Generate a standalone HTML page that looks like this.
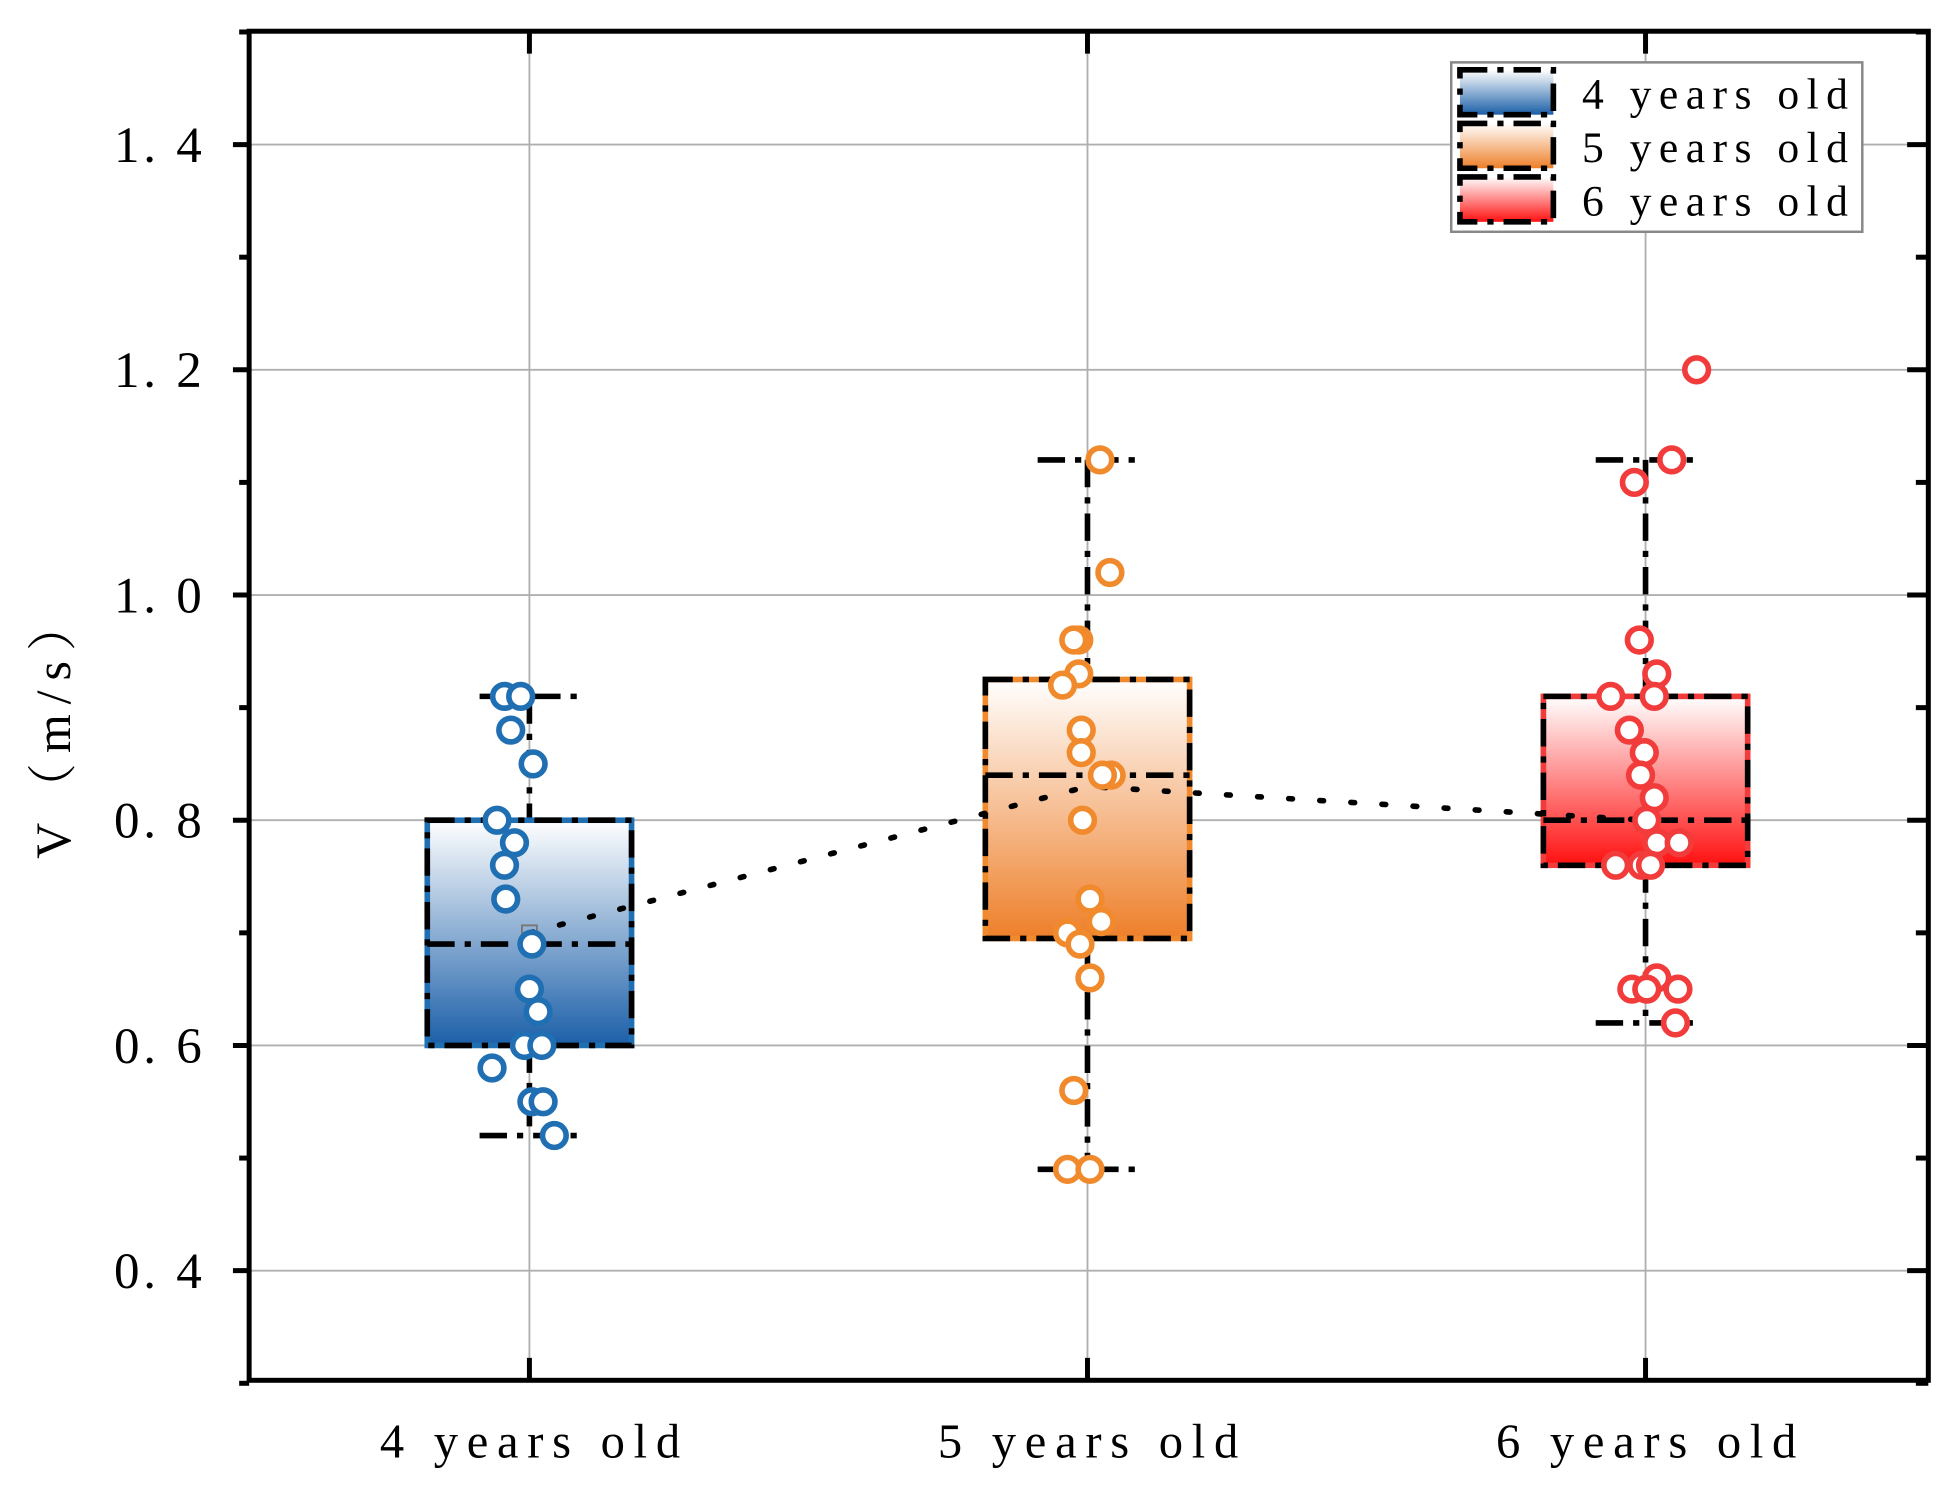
<!DOCTYPE html>
<html><head><meta charset="utf-8"><style>html,body{margin:0;padding:0;background:#fff}svg{display:block}</style></head>
<body>
<svg id="chart" width="1947" height="1490" viewBox="0 0 1563 1196" xmlns="http://www.w3.org/2000/svg" font-family="'Liberation Serif','Noto Serif CJK SC',serif">
<defs>
<linearGradient id="g0" x1="0" y1="0" x2="0" y2="1"><stop offset="0" stop-color="#fff"/><stop offset="1" stop-color="#1b5fa8"/></linearGradient>
<linearGradient id="g1" x1="0" y1="0" x2="0" y2="1"><stop offset="0" stop-color="#fff"/><stop offset="1" stop-color="#ee7f2a"/></linearGradient>
<linearGradient id="g2" x1="0" y1="0" x2="0" y2="1"><stop offset="0" stop-color="#fff"/><stop offset="1" stop-color="#ff1010"/></linearGradient>
</defs>
<g id="grid"></g><g id="boxes"></g><g id="pts"></g><g id="axes"></g><g id="legend"></g>
</svg>
<script>
const categories=["4 years old","5 years old","6 years old"];
const q1=[0.60,0.695,0.76];
const q3=[0.80,0.925,0.91];
const medians=[0.69,0.84,0.80];
const whiskLo=[0.52,0.49,0.62];
const whiskHi=[0.91,1.12,1.12];
const means=[0.70,0.83,0.80];
const yTicks=[0.4,0.6,0.8,1.0,1.2,1.4];
const yTickLabels=["0. 4","0. 6","0. 8","1. 0","1. 2","1. 4"];
const pts4=[0.91,0.91,0.88,0.85,0.80,0.78,0.76,0.73,0.69,0.65,0.63,0.60,0.60,0.58,0.55,0.55,0.52];
const jit4=[-20,-7,-15,3,-26,-12,-20,-19,2,0,7,-4,10,-30,2,11,20];
const pts5=[1.12,1.02,0.96,0.96,0.93,0.92,0.88,0.86,0.84,0.84,0.80,0.73,0.71,0.70,0.69,0.66,0.56,0.49,0.49];
const jit5=[10,18,-7,-11,-7,-20,-5,-5,19,12,-4,2,11,-16,-6,2,-11,-16,2];
const pts6=[1.20,1.12,1.10,0.96,0.93,0.91,0.91,0.88,0.86,0.84,0.82,0.80,0.78,0.78,0.76,0.76,0.76,0.65,0.66,0.65,0.65,0.62];
const jit6=[41,21,-9,-5,9,-28,7,-13,-1,-4,7,1,9,27,-24,-3,4,-11,9,1,26,24];
const colors=["#1f6fb2","#f08a2c","#f23b3b"];
const NS="http://www.w3.org/2000/svg";
const L=200,R=1548,T=25,B=1108;
function y(v){return 116+(1.4-v)*904;}
function x(i){return 425+i*448;}
function mk(p,tag,a){const e=document.createElementNS(NS,tag);for(const k in a)e.setAttribute(k,a[k]);p.appendChild(e);return e;}
const G=id=>document.getElementById(id);
const grid=G('grid'),boxes=G('boxes'),pts=G('pts'),axes=G('axes'),leg=G('legend');
yTicks.forEach((v,i)=>{const l=mk(grid,'line',{x1:L,x2:R,y1:y(v),y2:y(v),stroke:'#b0b0b0','stroke-width':1.5});

});
categories.forEach((c,i)=>{const l=mk(grid,'line',{x1:x(i),x2:x(i),y1:T,y2:B,stroke:'#b0b0b0','stroke-width':1.5});

});
const dash='22 8 5 8';
categories.forEach((c,i)=>{
 const g=mk(boxes,'g',{});
 
 
 const cx=x(i),hw=82,cw=40;
 mk(g,'line',{x1:cx,x2:cx,y1:y(whiskHi[i]),y2:y(q3[i]),stroke:'#000','stroke-width':4.5,'stroke-dasharray':dash});
 mk(g,'line',{x1:cx,x2:cx,y1:y(q1[i]),y2:y(whiskLo[i]),stroke:'#000','stroke-width':4.5,'stroke-dasharray':dash});
 mk(g,'line',{x1:cx-cw,x2:cx+cw,y1:y(whiskHi[i]),y2:y(whiskHi[i]),stroke:'#000','stroke-width':4.5,'stroke-dasharray':dash});
 mk(g,'line',{x1:cx-cw,x2:cx+cw,y1:y(whiskLo[i]),y2:y(whiskLo[i]),stroke:'#000','stroke-width':4.5,'stroke-dasharray':dash});
 mk(g,'rect',{x:cx-hw,y:y(q3[i]),width:2*hw,height:y(q1[i])-y(q3[i]),fill:'url(#g'+i+')',stroke:colors[i],'stroke-width':4.5});
 mk(g,'rect',{x:cx-hw,y:y(q3[i]),width:2*hw,height:y(q1[i])-y(q3[i]),fill:'none',stroke:'#000','stroke-width':4.5,'stroke-dasharray':dash});
 mk(g,'line',{x1:cx-hw,x2:cx+hw,y1:y(medians[i]),y2:y(medians[i]),stroke:'#000','stroke-width':4.5,'stroke-dasharray':dash});
});
let d='';means.forEach((m,i)=>{d+=(i?'L':'M')+x(i)+' '+y(m);});
const ml=mk(boxes,'path',{d:d,fill:'none',stroke:'#000','stroke-width':4.5,'stroke-dasharray':'3 22','stroke-linecap':'round'});


const ms=mk(boxes,'rect',{x:x(0)-6,y:y(means[0])-6,width:12,height:12,fill:'none',stroke:'#777','stroke-width':1.5});


[[pts4,jit4],[pts5,jit5],[pts6,jit6]].forEach(([vals,j],i)=>{vals.forEach((v,k)=>{
 const c=mk(pts,'circle',{cx:x(i)+j[k],cy:y(v),r:9.5,fill:'#fff',stroke:colors[i],'stroke-width':4.5});
 
 });});
mk(axes,'rect',{x:L,y:T,width:R-L,height:B-T,fill:'none',stroke:'#000','stroke-width':4});
for(let v=0.3;v<=1.501;v+=0.1){const yy=y(v);const maj=yTicks.some(t=>Math.abs(t-v)<0.001);
 mk(axes,'line',{x1:L-(maj?13:8),x2:L,y1:yy,y2:yy,stroke:'#000','stroke-width':4});
 mk(axes,'line',{x1:R-(maj?17:10),x2:R,y1:yy,y2:yy,stroke:'#000','stroke-width':4});}
categories.forEach((c,i)=>{mk(axes,'line',{x1:x(i),x2:x(i),y1:T,y2:T+18,stroke:'#000','stroke-width':4});
 mk(axes,'line',{x1:x(i),x2:x(i),y1:B,y2:B-18,stroke:'#000','stroke-width':4});
 const t=mk(axes,'text',{x:x(i)+4,y:1170,'font-size':39,'text-anchor':'middle','letter-spacing':7});t.textContent=c.replace(/ /g,'  ');t.setAttribute('xml:space','preserve');
 
 });
yTicks.forEach((v,i)=>{const t=mk(axes,'text',{x:165,y:y(v)+14,'font-size':41,'text-anchor':'end','letter-spacing':3});t.textContent=yTickLabels[i];
 
 });
const yt=mk(axes,'text',{x:0,y:0,'font-size':40,'text-anchor':'middle',transform:'translate(56,582) rotate(-90)','letter-spacing':8});yt.textContent='V（m/s）';


const lb=mk(leg,'rect',{x:1165,y:50,width:330,height:136,fill:'#fff',stroke:'#888','stroke-width':2});


categories.forEach((c,i)=>{const g=mk(leg,'g',{});
 
 
 const yy=56+i*43;
 mk(g,'rect',{x:1172,y:yy,width:75,height:36,fill:'url(#g'+i+')'});
 mk(g,'rect',{x:1172,y:yy,width:75,height:36,fill:'none',stroke:'#000','stroke-width':4.5,'stroke-dasharray':dash});
 const t=mk(g,'text',{x:1270,y:yy+31,'font-size':35,'letter-spacing':6});t.textContent=c.replace(/ /g,'  ');t.setAttribute('xml:space','preserve');});
</script>
</body></html>
